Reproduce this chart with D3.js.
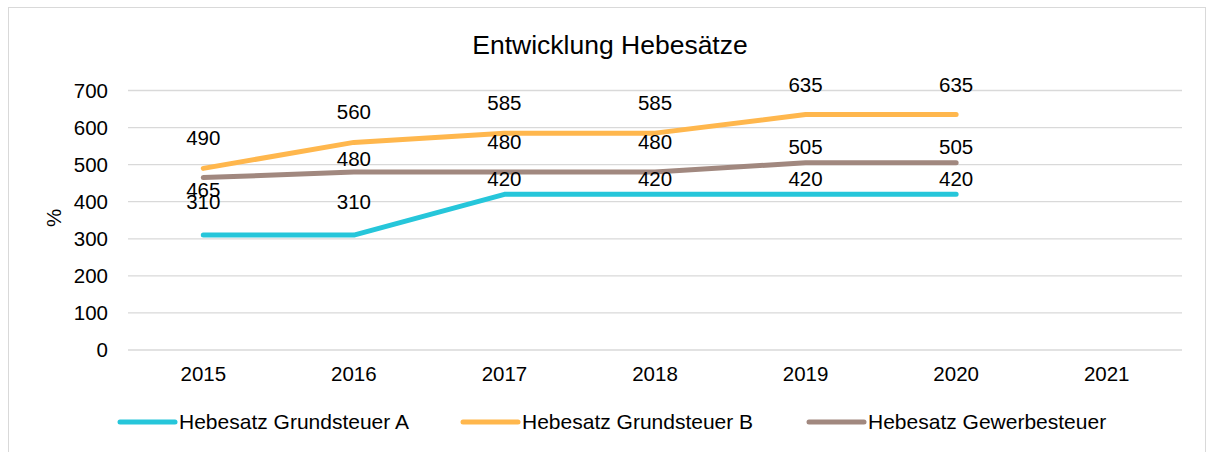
<!DOCTYPE html>
<html><head><meta charset="utf-8">
<script src="https://cdn.jsdelivr.net/npm/d3@7"></script>
<style>body{margin:0;background:#fff}svg{display:block;font-family:"Liberation Sans",Arial,sans-serif}</style>
</head><body><svg id="c" width="1207" height="452"></svg>
<script>
const years = ["2015","2016","2017","2018","2019","2020","2021"];
const grundA = [310,310,420,420,420,420];
const grundB = [490,560,585,585,635,635];
const gewerbe = [465,480,480,480,505,505];
const yTicks = [0,100,200,300,400,500,600,700];
const seriesNames = ["Hebesatz Grundsteuer A","Hebesatz Grundsteuer B","Hebesatz Gewerbesteuer"];

// layout: label vertical offsets (px) relative to point
const labelDy = [
  [-33,-33,-15,-15,-15,-15],
  [-31,-31,-30,-30,-30,-30],
  [12,-13,-30,-30,-16,-16]
];
const colors = ["#26C6DA","#FFB74D","#A1887F"];
const series = [grundA, grundB, gewerbe];
const FS = 20.5;

const svg = d3.select("#c");
svg.append("rect").attr("x",8.5).attr("y",7.5).attr("width",1197).attr("height",450).attr("fill","none").attr("stroke","#d9d9d9");

const x = d3.scaleBand().domain(years).range([128,1182]);
const y = d3.scaleLinear().domain([0,700]).range([350,90.5]);

svg.append("text").attr("x",610).attr("y",54).attr("text-anchor","middle").attr("font-size",26.5).attr("fill","#000").text("Entwicklung Hebesätze");

const g = svg.append("g");
g.selectAll("line.grid").data(yTicks).join("line").attr("class","grid")
  .attr("x1",128).attr("x2",1182).attr("y1",d=>y(d)).attr("y2",d=>y(d))
  .attr("stroke","#d9d9d9").attr("stroke-width",1.3);

const yAxis = svg.append("g").attr("transform","translate(128,0)")
  .call(d3.axisLeft(y).tickValues(yTicks).tickSize(0).tickPadding(20));
yAxis.select(".domain").remove();
yAxis.selectAll("text").attr("font-size",FS).attr("fill","#000").attr("font-family","Liberation Sans, Arial, sans-serif");

const xAxis = svg.append("g").attr("transform","translate(0,350)")
  .call(d3.axisBottom(x).tickSize(0).tickPadding(16));
xAxis.select(".domain").remove();
xAxis.selectAll("text").attr("font-size",FS).attr("fill","#000").attr("font-family","Liberation Sans, Arial, sans-serif");

svg.append("text").attr("transform","translate(61,218) rotate(-90)").attr("text-anchor","middle")
  .attr("font-size",FS).attr("fill","#000").text("%");

const line = d3.line().x((d,i)=>x(years[i])+x.bandwidth()/2).y(d=>y(d));
series.forEach((s,k)=>{
  svg.append("path").attr("d",line(s)).attr("fill","none").attr("stroke",colors[k])
    .attr("stroke-width",5).attr("stroke-linecap","round").attr("stroke-linejoin","round");
});
series.forEach((s,k)=>{
  svg.append("g").selectAll("text").data(s).join("text")
    .attr("x",(d,i)=>x(years[i])+x.bandwidth()/2)
    .attr("y",(d,i)=>y(d)+labelDy[k][i])
    .attr("dy","0.35em").attr("text-anchor","middle").attr("font-size",FS).attr("fill","#000")
    .text(d=>d);
});

const legX = [120,463,809];
seriesNames.forEach((n,k)=>{
  svg.append("line").attr("x1",legX[k]).attr("x2",legX[k]+55).attr("y1",422).attr("y2",422)
    .attr("stroke",colors[k]).attr("stroke-width",5).attr("stroke-linecap","round");
  svg.append("text").attr("x",legX[k]+59).attr("y",422).attr("dy","0.35em").attr("font-size",21)
    .attr("fill","#000").text(n);
});
</script></body></html>
